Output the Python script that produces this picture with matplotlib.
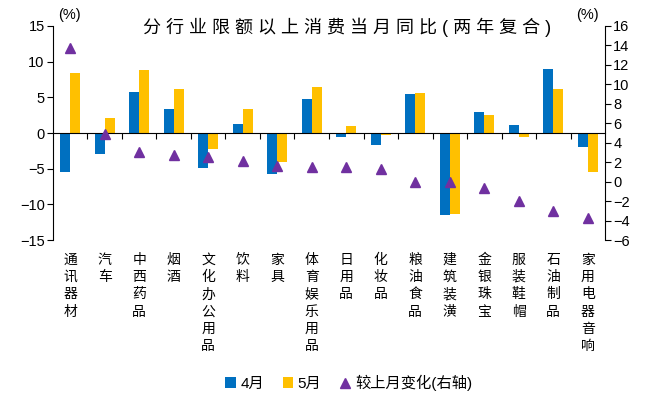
import matplotlib
matplotlib.use("Agg")
import matplotlib.pyplot as plt
import numpy as np

plt.rcParams['font.family'] = ['Liberation Sans', 'Noto Sans CJK SC', 'DejaVu Sans']

categories = ["通讯器材", "汽车", "中西药品", "烟酒", "文化办公用品", "饮料", "家具",
              "体育娱乐用品", "日用品", "化妆品", "粮油食品", "建筑装潢", "金银珠宝",
              "服装鞋帽", "石油制品", "家用电器音响"]
apr = [-5.4, -2.9, 5.8, 3.4, -4.9, 1.2, -5.7, 4.7, -0.6, -1.7, 5.4, -11.5, 3.0, 1.1, 9.0, -1.9]
may = [8.4, 2.1, 8.9, 6.2, -2.3, 3.4, -4.0, 6.4, 1.0, -0.3, 5.6, -11.3, 2.5, -0.6, 6.2, -5.4]
chg = [13.7, 4.9, 3.1, 2.7, 2.5, 2.1, 1.6, 1.5, 1.5, 1.3, 0.0, 0.0, -0.65, -2.0, -3.0, -3.7]

title = "分行业限额以上消费当月同比(两年复合)"
blue = "#0070C0"
yellow = "#FFC000"
purple = "#7030A0"

fig = plt.figure(figsize=(6.58, 3.99), dpi=100)
ax = fig.add_axes([0.0805, 0.398, 0.839, 0.537])
ax2 = ax.twinx()

x = np.arange(len(categories))
w = 0.29
b1 = ax.bar(x - w / 2, apr, w, color=blue, label="4月")
b2 = ax.bar(x + w / 2, may, w, color=yellow, label="5月")
tri, = ax2.plot(x, chg, "^", color=purple, markersize=7, linestyle="none",
                label="较上月变化(右轴)")

ax.set_xlim(-0.5, len(categories) - 0.5)
ax.set_ylim(-15, 15)
ax.set_yticks(np.arange(-15, 16, 5))
ax2.set_ylim(-6, 16)
ax2.set_yticks(np.arange(-6, 17, 2))

for a in (ax, ax2):
    a.spines["top"].set_visible(False)
ax.spines["right"].set_visible(False)
ax2.spines["left"].set_visible(False)
ax2.spines["bottom"].set_visible(False)
ax.spines["bottom"].set_position(("data", 0))
ax.set_xticks(np.arange(0.5, len(categories) - 0.5, 1))
ax.set_xticklabels([])
ax.tick_params(axis="x", direction="out", length=4, width=0.8)
ax.tick_params(axis="y", direction="out", length=4, labelsize=10.5, pad=2)
ax2.tick_params(axis="y", direction="out", length=4, labelsize=10.5, pad=2)

# category labels below the plot, written vertically
sec = ax.secondary_xaxis(0.0)
sec.set_xticks(x)
sec.set_xticklabels(["\n".join(c) for c in categories], fontsize=10,
                    linespacing=1.3, va="top")
sec.tick_params(length=0, pad=9)
sec.spines["bottom"].set_visible(False)

fig.text(0.106, 0.963, "(%)", fontsize=10.5, ha="center", va="center")
fig.text(0.893, 0.963, "(%)", fontsize=10.5, ha="center", va="center")
fig.text(0.528, 0.932, " ".join(title), fontsize=13, ha="center", va="center")

fig.legend([b1, b2, tri], ["4月", "5月", "较上月变化(右轴)"], loc="center",
           bbox_to_anchor=(0.53, 0.04), ncol=3, frameon=False, fontsize=11,
           handlelength=0.7, handleheight=0.7, handletextpad=0.3, columnspacing=1.2)

fig.savefig("out.png", dpi=100)
